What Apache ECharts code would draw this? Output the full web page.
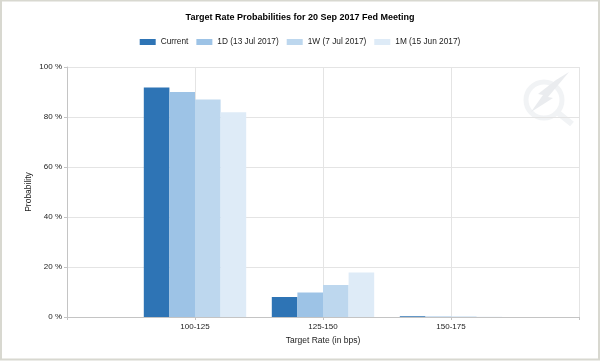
<!DOCTYPE html>
<html>
<head>
<meta charset="utf-8">
<script src="https://cdn.jsdelivr.net/npm/echarts@6/dist/echarts.min.js"></script>
<style>
html,body{margin:0;padding:0;background:#fff;}
#chart{width:600px;height:361px;}
</style>
</head>
<body>
<div id="chart"></div>
<script>
var titleText = 'Target Rate Probabilities for 20 Sep 2017 Fed Meeting';
var categories = ['', '100-125', '125-150', '150-175', ''];
var seriesNames = ['Current', '1D (13 Jul 2017)', '1W (7 Jul 2017)', '1M (15 Jun 2017)'];
var current = [null, 91.8, 8.0, 0.3, null];
var d1 = [null, 90.0, 9.8, 0.2, null];
var w1 = [null, 87.0, 12.8, 0.2, null];
var m1 = [null, 81.9, 17.8, 0.1, null];
var colors = ['#2e74b5', '#9dc3e6', '#bdd7ee', '#deebf7'];
var yTicks = [0, 20, 40, 60, 80, 100];

var FONT = "'Liberation Sans', Arial, sans-serif";
var chart = echarts.init(document.getElementById('chart'), null, {renderer: 'canvas'});
var dataSets = [current, d1, w1, m1];
var series = seriesNames.map(function (n, i) {
  return {
    name: n, type: 'bar', data: dataSets[i],
    barGap: '0%', barCategoryGap: '20%',
    itemStyle: {color: colors[i]},
    emphasis: {disabled: true}
  };
});
chart.setOption({
  animation: false,
  backgroundColor: '#ffffff',
  title: {
    text: titleText, left: 'center', top: 12, padding: 0,
    textStyle: {fontFamily: FONT, fontSize: 9, fontWeight: 'bold', color: '#000', lineHeight: 12}
  },
  legend: {
    data: seriesNames, left: 'center', top: 36, padding: 0,
    itemWidth: 16, itemHeight: 6, itemGap: 8, icon: 'rect',
    textStyle: {fontFamily: FONT, fontSize: 8.3, color: '#222', lineHeight: 12}
  },
  grid: {left: 67, right: 21, top: 67, bottom: 44, containLabel: false},
  xAxis: {
    type: 'category', data: categories, boundaryGap: false,
    name: 'Target Rate (in bps)', nameLocation: 'middle', nameGap: 17,
    nameTextStyle: {fontFamily: FONT, fontSize: 8.5, color: '#222'},
    axisLine: {lineStyle: {color: '#c4c4c4', width: 1}},
    axisTick: {show: true, length: 3, lineStyle: {color: '#c4c4c4'}},
    axisLabel: {fontFamily: FONT, fontSize: 8, color: '#222', margin: 6, interval: 0},
    splitLine: {show: true, lineStyle: {color: '#e4e4e4', width: 1}}
  },
  yAxis: {
    type: 'value', min: yTicks[0], max: yTicks[yTicks.length - 1], interval: yTicks[1] - yTicks[0],
    name: 'Probability', nameLocation: 'middle', nameGap: 34, nameMoveOverlap: false,
    nameTextStyle: {fontFamily: FONT, fontSize: 8.5, color: '#222'},
    axisLine: {show: true, lineStyle: {color: '#c4c4c4'}},
    axisTick: {show: true, length: 3, lineStyle: {color: '#c4c4c4'}},
    axisLabel: {fontFamily: FONT, fontSize: 8, color: '#222', margin: 5, formatter: '{value} %'},
    splitLine: {show: true, lineStyle: {color: '#e4e4e4', width: 1}}
  },
  graphic: [
    {type: 'rect', z: 100, silent: true, shape: {x: 1, y: 0.5, width: 598, height: 359}, style: {fill: 'none', stroke: '#d8d8d0', lineWidth: 2}},
    {type: 'circle', z: 0, silent: true, shape: {cx: 544, cy: 100, r: 18}, style: {fill: 'none', stroke: '#f1f3f5', lineWidth: 5}},
    {type: 'line', z: 0, silent: true, shape: {x1: 557, y1: 112, x2: 572, y2: 124}, style: {stroke: '#f1f3f5', lineWidth: 6}},
    {type: 'polygon', z: 0, silent: true, shape: {points: [[569, 72], [548, 97], [553, 98], [531, 112], [543, 95], [538, 94], [556, 80]]}, style: {fill: '#eaecef', stroke: 'none'}}
  ],
  series: series
});
</script>
</body>
</html>
